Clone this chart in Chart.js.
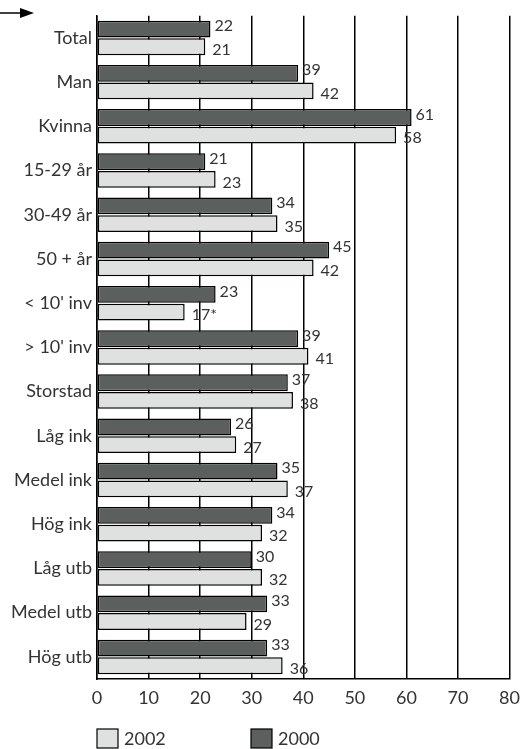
<!DOCTYPE html>
<html><head><meta charset="utf-8">
<script src="https://cdn.jsdelivr.net/npm/chart.js@4"></script>
<style>html,body{margin:0;padding:0;background:#fff}#wrap{width:528px;height:749px}</style>
</head><body><div id="wrap"><canvas id="c" width="528" height="749"></canvas></div>
<script>
const categories = ["Total","Man","Kvinna","15-29 år","30-49 år","50 + år","< 10' inv","> 10' inv","Storstad","Låg ink","Medel ink","Hög ink","Låg utb","Medel utb","Hög utb"];
const values2000 = [22,39,61,21,34,45,23,39,37,26,35,34,30,33,33];
const values2002 = [21,42,58,23,35,42,17,41,38,27,37,32,32,29,36];
const labels2000 = values2000.map(String);
const labels2002 = ["21","42","58","23","35","42","17*","41","38","27","37","32","32","29","36"];
const xTicks = [0,10,20,30,40,50,60,70,80];
const FONT = "Lato, 'Open Sans', sans-serif";
const DARK = "#5b605e", LIGHT = "#dfe1e1";

const extras = {
  id: 'extras',
  afterDatasetsDraw(chart) {
    const ctx = chart.ctx;
    ctx.save();
    ctx.font = "16px " + FONT;
    ctx.fillStyle = "#333";
    ctx.textBaseline = "middle";
    ctx.textAlign = "left";
    const m0 = chart.getDatasetMeta(0), m1 = chart.getDatasetMeta(1);
    m0.data.forEach((el, i) => {
      ctx.fillText(labels2000[i], el.x + 4, el.y - 3);
    });
    m1.data.forEach((el, i) => {
      ctx.fillText(labels2002[i], el.x + 7, el.y + 3);
    });
    // arrow
    ctx.strokeStyle = "#000"; ctx.fillStyle = "#000"; ctx.lineWidth = 1.5;
    ctx.beginPath(); ctx.moveTo(0, 13); ctx.lineTo(22, 13); ctx.stroke();
    ctx.beginPath(); ctx.moveTo(34, 13); ctx.lineTo(20, 8); ctx.lineTo(20, 18); ctx.closePath(); ctx.fill();
    // legend
    const items = [{t: "2002", c: LIGHT, x: 97}, {t: "2000", c: DARK, x: 251}];
    ctx.font = "18px " + FONT;
    items.forEach(it => {
      ctx.fillStyle = it.c; ctx.fillRect(it.x, 729, 21, 19);
      ctx.strokeStyle = "#000"; ctx.lineWidth = 1.2; ctx.strokeRect(it.x, 729, 21, 19);
      ctx.fillStyle = "#333"; ctx.textBaseline = "middle";
      ctx.fillText(it.t, it.x + 27, 739);
    });
    ctx.restore();
  }
};

new Chart(document.getElementById('c'), {
  type: 'bar',
  data: {
    labels: categories,
    datasets: [
      {label: "2000", data: values2000, backgroundColor: DARK, borderColor: "#000", borderWidth: 1.5, borderSkipped: false, categoryPercentage: 0.8, barPercentage: 0.95},
      {label: "2002", data: values2002, backgroundColor: LIGHT, borderColor: "#000", borderWidth: 1.5, borderSkipped: false, categoryPercentage: 0.8, barPercentage: 0.95}
    ]
  },
  options: {
    indexAxis: 'y',
    responsive: false,
    animation: false,
    layout: {padding: {left: 0, right: 16, top: 8, bottom: 0}},
    plugins: {legend: {display: false}, tooltip: {enabled: false}},
    scales: {
      x: {
        min: 0, max: 80,
        afterBuildTicks(s) { s.ticks = xTicks.map(v => ({value: v})); },
        afterFit(s) { s.height = 70; },
        grid: {color: "#000", lineWidth: 1.5, drawTicks: false},
        border: {color: "#000", width: 1.5},
        ticks: {color: "#333", font: {family: FONT, size: 18}, padding: 8}
      },
      y: {
        afterFit(s) { s.width = 97; },
        grid: {display: false, drawTicks: false},
        border: {color: "#000", width: 1.5},
        ticks: {color: "#333", font: {family: FONT, size: 18}, padding: 5}
      }
    }
  },
  plugins: [extras]
});
</script></body></html>
